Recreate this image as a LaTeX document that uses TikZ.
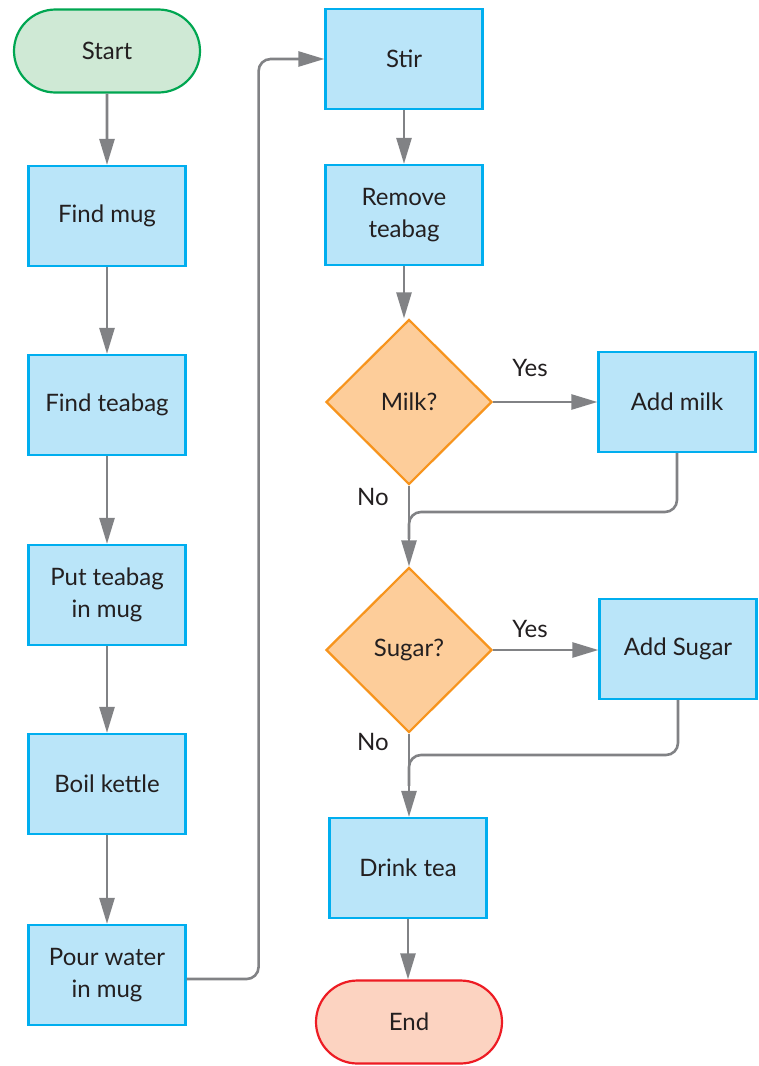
\documentclass[tikz,border=0pt]{standalone}
\usepackage{fontspec}
\setmainfont{Lato}
\usetikzlibrary{shapes.geometric,shapes.misc,arrows.meta,calc}
\definecolor{boxfill}{HTML}{BAE5F9}
\definecolor{boxline}{HTML}{00AEEF}
\definecolor{decfill}{HTML}{FDCD9A}
\definecolor{decline}{HTML}{F7941D}
\definecolor{startfill}{HTML}{CFE9D5}
\definecolor{startline}{HTML}{00A651}
\definecolor{endfill}{HTML}{FCD3C1}
\definecolor{endline}{HTML}{ED1C24}
\definecolor{wire}{HTML}{818285}
\definecolor{ink}{HTML}{231F20}
\tikzset{
  base/.style={font=\fontsize{24}{32}\selectfont, text=ink, align=center, inner sep=0pt},
  process/.style={base, rectangle, draw=boxline, fill=boxfill, line width=2.2pt,
    minimum width=157pt, minimum height=100pt},
  decision/.style={base, diamond, draw=decline, fill=decfill, line width=2.2pt,
    minimum width=166pt, minimum height=165pt},
  terminal/.style={base, rounded rectangle, draw=#1line, fill=#1fill, line width=2.2pt,
    minimum width=186pt, minimum height=83pt},
  flow/.style={draw=wire, line width=2.6pt, -{Triangle[length=26pt,width=15pt]}},
  mergeline/.style={draw=wire, line width=2.6pt, rounded corners=12pt},
  lbl/.style={base, text=ink}
}
\begin{document}
\begin{tikzpicture}[x=1pt,y=-1pt]
\useasboundingbox (0,0) rectangle (759,1066);
% left column
\node[terminal=start] (start) at (107,51) {Start};
\node[process] (mug) at (107,216) {Find mug};
\node[process] (bag) at (107,405) {Find teabag};
\node[process] (put) at (107,595) {Put teabag\\in mug};
\node[process] (boil) at (107,784) {Boil kettle};
\node[process] (pour) at (107,975) {Pour water\\in mug};
% right column
\node[process] (stir) at (404,59) {Stir};
\node[process] (remove) at (404,215) {Remove\\teabag};
\node[decision] (milk) at (409,402) {Milk?};
\node[process] (addmilk) at (677,402) {Add milk};
\node[decision] (sugar) at (409,650) {Sugar?};
\node[process] (addsugar) at (678,649) {Add Sugar};
\node[process] (drink) at (408,868) {Drink tea};
\node[terminal=end] (end) at (409,1022) {End};
% junction points where the side branches merge back
\coordinate (j1) at (409,512);
\coordinate (j2) at (409,755);
\coordinate (pourout) at ($(pour.east)+(0,4)$);
% connectors
\draw[flow] (start) -- (mug);
\draw[flow] (mug) -- (bag);
\draw[flow] (bag) -- (put);
\draw[flow] (put) -- (boil);
\draw[flow] (boil) -- (pour);
\draw[flow, rounded corners=12pt] (pourout) -- ++(72,0) |- (stir.west);
\draw[flow] (stir) -- (remove);
\draw[flow] (remove.south) -- (remove.south |- milk.north);
\draw[flow] (milk.east) -- (milk.east -| addmilk.west);
\draw[mergeline] (addmilk.south) |- (j1) -- ($(j1)!0.5!(milk.south |- sugar.north)$);
\draw[flow] (milk.south) -- (sugar.north);
\draw[flow] (sugar.east) -- (sugar.east -| addsugar.west);
\draw[mergeline] (addsugar.south) |- (j2) -- ($(j2)!0.5!(sugar.south |- drink.north)$);
\draw[flow] (sugar.south) -- (sugar.south |- drink.north);
\draw[flow] (drink.south) -- (drink.south |- end.north);
% branch labels
\node[lbl] at (530,368) {Yes};
\node[lbl] at (373,497) {No};
\node[lbl] at (530,629) {Yes};
\node[lbl] at (373,742) {No};
\end{tikzpicture}
\end{document}
